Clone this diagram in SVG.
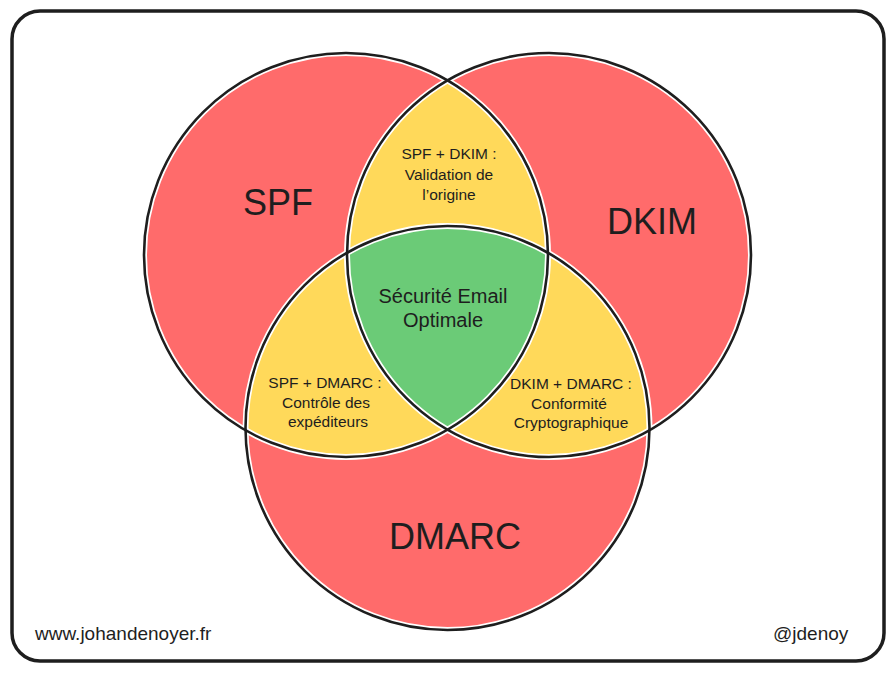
<svg xmlns="http://www.w3.org/2000/svg" width="895" height="673" viewBox="0 0 895 673">
  <style>
    .red { fill: #ff6b6b; }
    .yellow { fill: #ffd95a; }
    .green { fill: #6bcb77; }
    .halo { fill: none; stroke: #ffffff; stroke-width: 6; }
    .line { fill: none; stroke: #1e1e1e; stroke-width: 2.6; }
    .big { font-family: "Liberation Sans", Arial, sans-serif; font-size: 36px; fill: #1e1e1e; text-anchor: middle; }
    .mid { font-family: "Liberation Sans", Arial, sans-serif; font-size: 20px; fill: #1e1e1e; text-anchor: middle; }
    .small { font-family: "Liberation Sans", Arial, sans-serif; font-size: 15.5px; fill: #1e1e1e; text-anchor: middle; }
    .foot { font-family: "Liberation Sans", Arial, sans-serif; font-size: 19px; fill: #1e1e1e; }
  </style>
  <rect x="0" y="0" width="895" height="673" fill="#ffffff"/>
  <rect id="frame" x="12" y="11" width="872" height="650" rx="28" ry="28" fill="#ffffff" stroke="#1e1e1e" stroke-width="3.5"/>

  <g id="spf">
    <circle class="red" cx="346" cy="255" r="202"/>
  </g>
  <g id="dkim">
    <circle class="red" cx="549" cy="255" r="202"/>
  </g>
  <g id="dmarc">
    <circle class="red" cx="447.5" cy="428" r="202"/>
  </g>

  <g id="spf-dkim">
    <path class="yellow" d="M447.5 80.35 A202 202 0 0 1 447.5 429.65 A202 202 0 0 1 447.5 80.35 Z"/>
  </g>
  <g id="spf-dmarc">
    <path class="yellow" d="M548 252.8 A202 202 0 0 1 245.5 430.2 A202 202 0 0 1 548 252.8 Z"/>
  </g>
  <g id="dkim-dmarc">
    <path class="yellow" d="M649.5 430.2 A202 202 0 0 1 347 252.8 A202 202 0 0 1 649.5 430.2 Z"/>
  </g>
  <g id="center">
    <path class="green" d="M347 252.8 A202 202 0 0 1 548 252.8 A202 202 0 0 1 447.5 429.65 A202 202 0 0 1 347 252.8 Z"/>
  </g>

  <g id="outlines">
    <circle class="halo" cx="346" cy="255" r="202"/>
    <circle class="halo" cx="549" cy="255" r="202"/>
    <circle class="halo" cx="447.5" cy="428" r="202"/>
    <circle class="line" cx="346" cy="255" r="202"/>
    <circle class="line" cx="549" cy="255" r="202"/>
    <circle class="line" cx="447.5" cy="428" r="202"/>
  </g>

  <g id="labels">
    <text class="big" x="278" y="215">SPF</text>
    <text class="big" x="652" y="234">DKIM</text>
    <text class="big" x="455" y="549">DMARC</text>
    <text class="small" x="449" y="159">SPF + DKIM :</text>
    <text class="small" x="449" y="180">Validation de</text>
    <text class="small" x="449" y="200">l’origine</text>
    <text class="mid" x="443" y="303">Sécurité Email</text>
    <text class="mid" x="443" y="327">Optimale</text>
    <text class="small" x="325" y="388">SPF + DMARC :</text>
    <text class="small" x="326" y="408">Contrôle des</text>
    <text class="small" x="328" y="427">expéditeurs</text>
    <text class="small" x="571" y="389">DKIM + DMARC :</text>
    <text class="small" x="569" y="409">Conformité</text>
    <text class="small" x="571" y="428">Cryptographique</text>
  </g>

  <g id="footer">
    <text class="foot" x="35" y="640">www.johandenoyer.fr</text>
    <text class="foot" x="773" y="640">@jdenoy</text>
  </g>
</svg>
